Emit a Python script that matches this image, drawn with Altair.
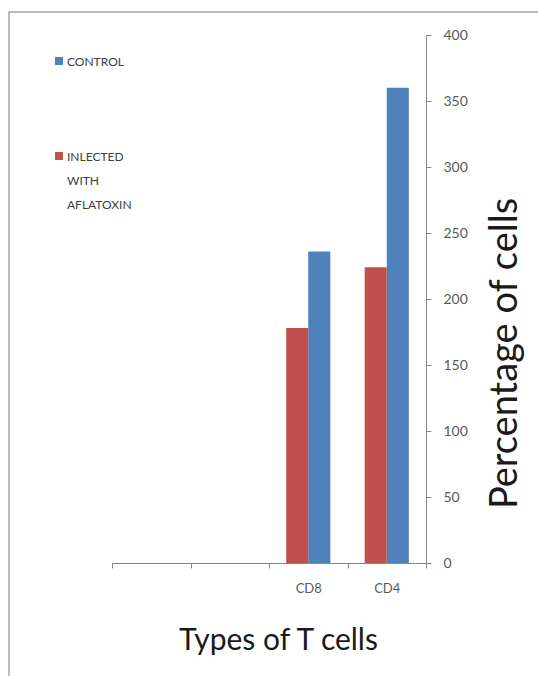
import altair as alt
import pandas as pd

# --- data ---
categories = ["blank1", "blank2", "CD8", "CD4"]
series = ["CONTROL", "INLECTED WITH AFLATOXIN"]
control = [None, None, 236, 360]
infected = [None, None, 178, 224]
colors = ["#4F81BD", "#C0504D"]
y_ticks = [0, 50, 100, 150, 200, 250, 300, 350, 400]

rows = []
for c, v in zip(categories, control):
    rows.append({"cell": c, "group": series[0], "value": v})
for c, v in zip(categories, infected):
    rows.append({"cell": c, "group": series[1], "value": v})
df = pd.DataFrame(rows)

FONT = "Lato"
AXIS_GRAY = "#868686"

bars = alt.Chart(df).mark_bar().encode(
    x=alt.X(
        "cell:N",
        sort=categories,
        scale=alt.Scale(domain=categories, paddingInner=0, paddingOuter=0),
        axis=alt.Axis(
            title="Types of T cells",
            labelExpr="indexof(datum.label, 'blank') == 0 ? '' : datum.label",
            tickBand="extent",
            labelAngle=0,
            domainColor=AXIS_GRAY,
            tickColor=AXIS_GRAY,
            tickSize=5,
            labelColor="#595959",
            labelFont=FONT,
            labelFontSize=13,
            labelPadding=14,
            titleFont=FONT,
            titleFontSize=30,
            titleFontWeight="normal",
            titleColor="#1a1a1a",
            titleX=166,
            titleY=77,
            titleBaseline="middle",
            titleAlign="center",
            grid=False,
        ),
    ),
    xOffset=alt.XOffset(
        "group:N",
        scale=alt.Scale(domain=[series[1], series[0]], paddingInner=0, paddingOuter=0.78),
    ),
    y=alt.Y(
        "value:Q",
        scale=alt.Scale(domain=[0, 400]),
        axis=alt.Axis(
            orient="right",
            values=y_ticks,
            title="Percentage of cells",
            grid=False,
            domainColor=AXIS_GRAY,
            tickColor=AXIS_GRAY,
            tickSize=5,
            labelColor="#595959",
            labelFont=FONT,
            labelFontSize=14,
            labelPadding=12,
            titleFont=FONT,
            titleFontSize=38,
            titleFontWeight="normal",
            titleColor="#1a1a1a",
            titleAngle=270,
            titleX=79,
            titleY=318,
            titleBaseline="middle",
            titleAlign="center",
        ),
    ),
    color=alt.Color(
        "group:N",
        scale=alt.Scale(domain=series, range=colors),
        legend=alt.Legend(
            title=None,
            orient="none",
            legendX=-59,
            legendY=16,
            symbolType="M-1,0L1,0L1,2L-1,2Z",
            symbolSize=64,
            symbolStrokeWidth=0,
            labelFont=FONT,
            labelFontSize=12,
            labelColor="#404040",
            labelExpr="split(datum.label, ' ')",
            labelLimit=200,
            labelOffset=2,
            labelBaseline="top",
            rowPadding=78,
        ),
    ),
)

frame = alt.Chart(pd.DataFrame({"frame": [0]})).mark_rect(
    fillOpacity=0, stroke="#a6a6a6", strokeWidth=1.5
).encode(
    x=alt.value(-103), x2=alt.value(700), y=alt.value(-23), y2=alt.value(900)
)

chart = alt.layer(frame, bars).properties(
    width=314,
    height=528,
    autosize=alt.AutoSizeParams(type="none"),
    padding={"left": 112, "top": 35, "right": 112, "bottom": 113},
).configure(
    view=alt.ViewConfig(stroke=None),
    style={"guide-label": {"lineHeight": 24}},
)

chart.save("out.html", embed_options={"renderer": "svg", "actions": False})
